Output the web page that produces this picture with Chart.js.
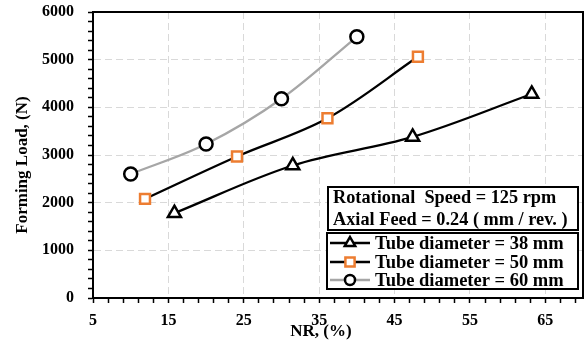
<!DOCTYPE html>
<html><head><meta charset="utf-8">
<script src="https://cdn.jsdelivr.net/npm/chart.js@4/dist/chart.umd.min.js"></script>
<style>html,body{margin:0;padding:0;background:#fff;}#wrap{width:584px;height:343px;position:relative;}</style>
</head><body><div id="wrap"><canvas id="c" width="584" height="343"></canvas></div>
<script>
// ---- data ----
const seriesLabels = ['Tube diameter = 38 mm', 'Tube diameter = 50 mm', 'Tube diameter = 60 mm'];
const nr38 = [15.8, 31.5, 47.4, 63.2];
const load38 = [1780, 2780, 3380, 4280];
const nr50 = [11.9, 24.1, 36.1, 48.1];
const load50 = [2080, 2970, 3770, 5060];
const nr60 = [10, 20, 30, 40];
const load60 = [2600, 3230, 4180, 5480];
const xMajorTicks = [5, 15, 25, 35, 45, 55, 65];
const yMajorTicks = [0, 1000, 2000, 3000, 4000, 5000, 6000];
const infoLines = ['Rotational  Speed = 125 rpm', 'Axial Feed = 0.24 ( mm / rev. )'];
const xTitle = 'NR, (%)';
const yTitle = 'Forming Load, (N)';

// minor tick positions (axis decoration)
const xAllTicks = []; for (let v = 5; v <= 69; v += 2) xAllTicks.push(v);
const yAllTicks = []; for (let v = 0; v <= 6000; v += 200) yAllTicks.push(v);

const FONT = '"Liberation Serif", "Times New Roman", serif';
const GRID = '#d9d9d9';
const ORANGE = '#ed7d31';
const styles = [
  {pointStyle: 'triangle', line: '#000000', marker: '#000000', r: 7.5, lr: 6},
  {pointStyle: 'rect', line: '#000000', marker: ORANGE, r: 7, lr: 6.5},
  {pointStyle: 'circle', line: '#a6a6a6', marker: '#000000', r: 6.5, lr: 5}
];
const xs = [nr38, nr50, nr60], ys = [load38, load50, load60];

const datasets = seriesLabels.map((lab, i) => ({
  label: lab,
  data: xs[i].map((x, k) => ({x: x, y: ys[i][k]})),
  borderColor: styles[i].line,
  borderWidth: 2.3,
  tension: 0.35,
  fill: false,
  pointStyle: styles[i].pointStyle,
  pointRadius: styles[i].r,
  pointBorderWidth: 2.5,
  pointBorderColor: styles[i].marker,
  pointBackgroundColor: '#ffffff'
}));

function drawMarker(ctx, style, x, y, r, color) {
  ctx.save();
  ctx.lineWidth = 2.5;
  ctx.strokeStyle = color;
  ctx.fillStyle = '#fff';
  ctx.beginPath();
  if (style === 'triangle') {
    ctx.moveTo(x, y - r);
    ctx.lineTo(x + r * 0.866, y + r * 0.5);
    ctx.lineTo(x - r * 0.866, y + r * 0.5);
    ctx.closePath();
  } else if (style === 'rect') {
    const s = r * Math.SQRT1_2;
    ctx.rect(x - s, y - s, 2 * s, 2 * s);
  } else {
    ctx.arc(x, y, r, 0, Math.PI * 2);
  }
  ctx.fill(); ctx.stroke();
  ctx.restore();
}

const decor = {
  id: 'decor',
  afterDatasetsDraw(chart) {
    const ctx = chart.ctx, a = chart.chartArea;
    ctx.save();
    ctx.strokeStyle = '#000'; ctx.lineWidth = 2;
    ctx.beginPath();
    ctx.moveTo(a.left, a.top); ctx.lineTo(a.right, a.top); ctx.lineTo(a.right, a.bottom);
    ctx.stroke();

    ctx.fillStyle = '#fff';
    ctx.fillRect(328, 187, 250, 43);
    ctx.strokeRect(328, 187, 250, 43);
    ctx.fillStyle = '#000';
    ctx.font = 'bold 18.3px ' + FONT;
    ctx.textBaseline = 'middle'; ctx.textAlign = 'left';
    ctx.fillText(infoLines[0], 333, 198);
    ctx.fillText(infoLines[1], 333, 220);

    ctx.fillStyle = '#fff';
    ctx.fillRect(327, 233, 251, 56);
    ctx.strokeRect(327, 233, 251, 56);
    const ly = [243, 262, 280];
    seriesLabels.forEach((lab, i) => {
      ctx.strokeStyle = styles[i].line; ctx.lineWidth = 2.3;
      ctx.beginPath(); ctx.moveTo(330, ly[i]); ctx.lineTo(370, ly[i]); ctx.stroke();
      drawMarker(ctx, styles[i].pointStyle, 350, ly[i], styles[i].lr, styles[i].marker);
      ctx.fillStyle = '#000';
      ctx.font = 'bold 18.5px ' + FONT;
      ctx.fillText(lab, 375, ly[i] + 1);
    });

    ctx.fillStyle = '#000';
    ctx.font = 'bold 17px ' + FONT;
    ctx.textAlign = 'center'; ctx.textBaseline = 'middle';
    ctx.fillText(xTitle, 321, 332);
    ctx.translate(23, 165); ctx.rotate(-Math.PI / 2);
    ctx.fillText(yTitle, 0, 0);
    ctx.restore();
  }
};

const tickFont = {family: FONT, size: 16, weight: 'bold'};

const chart = new Chart(document.getElementById('c'), {
  type: 'line',
  data: {datasets: datasets},
  plugins: [decor],
  options: {
    responsive: false,
    animation: false,
    devicePixelRatio: 1,
    layout: {autoPadding: false, padding: {top: 12, right: 1, left: 0, bottom: 0}},
    plugins: {legend: {display: false}, tooltip: {enabled: false}},
    scales: {
      x: {
        type: 'linear', min: 5, max: 70,
        afterBuildTicks: s => { s.ticks = xAllTicks.map(v => ({value: v})); },
        afterFit: s => { s.height = 45; s.paddingLeft = 0; s.paddingRight = 0; },
        ticks: {autoSkip: false, maxRotation: 0, padding: 8, color: '#000', font: tickFont,
          callback: v => xMajorTicks.includes(v) ? String(v) : ''},
        grid: {
          color: c => (c.tick && xMajorTicks.includes(c.tick.value) && c.tick.value !== 5) ? GRID : 'rgba(0,0,0,0)',
          lineWidth: 1, tickColor: '#000', tickLength: 5, tickWidth: 1.5
        },
        border: {display: true, color: '#000', width: 2, dash: [7, 4]}
      },
      y: {
        type: 'linear', min: 0, max: 6000,
        afterBuildTicks: s => { s.ticks = yAllTicks.map(v => ({value: v})); },
        afterFit: s => { s.width = 93; s.paddingTop = 0; s.paddingBottom = 0; },
        ticks: {autoSkip: false, padding: 14, color: '#000', font: tickFont,
          callback: v => yMajorTicks.includes(v) ? String(v) : ''},
        grid: {
          color: c => (c.tick && yMajorTicks.includes(c.tick.value) && c.tick.value !== 0 && c.tick.value !== 6000) ? GRID : 'rgba(0,0,0,0)',
          lineWidth: 1, tickColor: '#000', tickLength: 5, tickWidth: 1.5
        },
        border: {display: true, color: '#000', width: 2, dash: [7, 4]}
      }
    }
  }
});
</script>
</body></html>
